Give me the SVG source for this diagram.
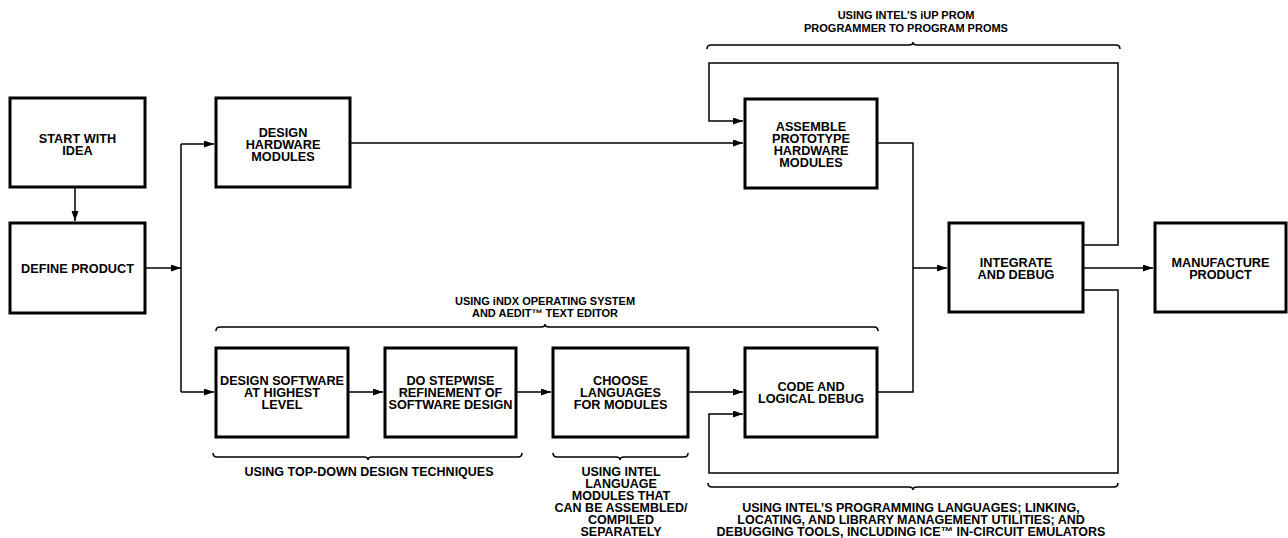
<svg xmlns="http://www.w3.org/2000/svg" width="1288" height="538" viewBox="0 0 1288 538">
<style>
.box{fill:#fff;stroke:#000;stroke-width:3}
.ln{fill:none;stroke:#000;stroke-width:1.5}
.br{fill:none;stroke:#000;stroke-width:1.6}
text{font-family:"Liberation Sans",Arial,sans-serif;font-weight:bold;fill:#000;text-anchor:middle}
.t{font-size:12.7px}
.s{font-size:11px}
.b{font-size:12.5px}
</style>
<defs>
<marker id="ah" markerUnits="userSpaceOnUse" markerWidth="11" markerHeight="8" refX="10" refY="3.5" orient="auto">
<path d="M0,0 L10,3.5 L0,7 z" fill="#000"/>
</marker>
</defs>
<rect width="1288" height="538" fill="#fff"/>

<g id="connectors">
<path class="ln" d="M75,188 V221" marker-end="url(#ah)"/>
<path class="ln" d="M146,268 H181" marker-end="url(#ah)"/>
<path class="ln" d="M181,144 V392"/>
<path class="ln" d="M181,144 H214" marker-end="url(#ah)"/>
<path class="ln" d="M181,392 H214" marker-end="url(#ah)"/>
<path class="ln" d="M351,143 H743" marker-end="url(#ah)"/>
<path class="ln" d="M349,392 H383" marker-end="url(#ah)"/>
<path class="ln" d="M517,392 H551" marker-end="url(#ah)"/>
<path class="ln" d="M689,392 H743" marker-end="url(#ah)"/>
<path class="ln" d="M878,143 H913 V392 H878"/>
<path class="ln" d="M913,268 H947" marker-end="url(#ah)"/>
<path class="ln" d="M1084,268 H1153" marker-end="url(#ah)"/>
<path class="ln" d="M1084,245 H1118 V63 H709 V121 H743" marker-end="url(#ah)"/>
<path class="ln" d="M1084,290 H1118 V473 H709 V414 H743" marker-end="url(#ah)"/>
</g>

<g id="braces">
<path class="br" d="M707,49 Q707,45 711,45 H909 Q913,45 913,42 Q913,45 917,45 H1116 Q1120,45 1120,49"/>
<path class="br" d="M216,331 Q216,327 220,327 H541 Q545,327 545,324 Q545,327 549,327 H874 Q878,327 878,331"/>
<path class="br" d="M213,453 Q213,457 217,457 H364 Q368,457 368,460 Q368,457 372,457 H518 Q522,457 522,453"/>
<path class="br" d="M553,453 Q553,457 557,457 H616 Q620,457 620,460 Q620,457 624,457 H684 Q688,457 688,453"/>
<path class="br" d="M708,483 Q708,487 712,487 H909 Q913,487 913,490 Q913,487 917,487 H1114 Q1118,487 1118,483"/>
</g>

<g id="n-start"><rect class="box" x="10" y="98" width="135" height="89"/>
<text class="t" x="77.5" y="142.5">START WITH</text><text class="t" x="77.5" y="154.5">IDEA</text></g>

<g id="n-define"><rect class="box" x="10" y="223" width="135" height="90"/>
<text class="t" x="77.5" y="272.5">DEFINE PRODUCT</text></g>

<g id="n-hw"><rect class="box" x="216" y="98" width="134" height="89"/>
<text class="t" x="283" y="136.5">DESIGN</text><text class="t" x="283" y="148.5">HARDWARE</text><text class="t" x="283" y="160.5">MODULES</text></g>

<g id="n-assemble"><rect class="box" x="745" y="99" width="132" height="89"/>
<text class="t" x="811" y="130.5">ASSEMBLE</text><text class="t" x="811" y="142.5">PROTOTYPE</text><text class="t" x="811" y="154.5">HARDWARE</text><text class="t" x="811" y="166.5">MODULES</text></g>

<g id="n-integrate"><rect class="box" x="949" y="223" width="134" height="89"/>
<text class="t" x="1016" y="266.5">INTEGRATE</text><text class="t" x="1016" y="278.5">AND DEBUG</text></g>

<g id="n-manufacture"><rect class="box" x="1155" y="223" width="131" height="89"/>
<text class="t" x="1220.5" y="266.5">MANUFACTURE</text><text class="t" x="1220.5" y="278.5">PRODUCT</text></g>

<g id="n-designsw"><rect class="box" x="216" y="348" width="132" height="89"/>
<text class="t" x="282" y="384.5">DESIGN SOFTWARE</text><text class="t" x="282" y="396.5">AT HIGHEST</text><text class="t" x="282" y="408.5">LEVEL</text></g>

<g id="n-stepwise"><rect class="box" x="385" y="348" width="131" height="89"/>
<text class="t" x="450.5" y="384.5">DO STEPWISE</text><text class="t" x="450.5" y="396.5">REFINEMENT OF</text><text class="t" x="450.5" y="408.5">SOFTWARE DESIGN</text></g>

<g id="n-choose"><rect class="box" x="553" y="348" width="135" height="89"/>
<text class="t" x="620.5" y="384.5">CHOOSE</text><text class="t" x="620.5" y="396.5">LANGUAGES</text><text class="t" x="620.5" y="408.5">FOR MODULES</text></g>

<g id="n-code"><rect class="box" x="745" y="348" width="132" height="89"/>
<text class="t" x="811" y="390.5">CODE AND</text><text class="t" x="811" y="402.5">LOGICAL DEBUG</text></g>

<g id="labels">
<text class="s" x="906" y="19">USING INTEL’S iUP PROM</text>
<text class="s" x="906" y="32">PROGRAMMER TO PROGRAM PROMS</text>
<text class="s" x="545" y="305">USING iNDX OPERATING SYSTEM</text>
<text class="s" x="545" y="317">AND AEDIT™ TEXT EDITOR</text>
<text class="b" x="369" y="476">USING TOP-DOWN DESIGN TECHNIQUES</text>
<text class="b" x="621" y="476">USING INTEL</text>
<text class="b" x="621" y="488">LANGUAGE</text>
<text class="b" x="621" y="500">MODULES THAT</text>
<text class="b" x="621" y="512">CAN BE ASSEMBLED/</text>
<text class="b" x="621" y="524">COMPILED</text>
<text class="b" x="621" y="536">SEPARATELY</text>
<text class="b" x="911" y="512">USING INTEL’S PROGRAMMING LANGUAGES; LINKING,</text>
<text class="b" x="911" y="524">LOCATING, AND LIBRARY MANAGEMENT UTILITIES; AND</text>
<text class="b" x="911" y="536">DEBUGGING TOOLS, INCLUDING ICE™ IN-CIRCUIT EMULATORS</text>
</g>
</svg>
